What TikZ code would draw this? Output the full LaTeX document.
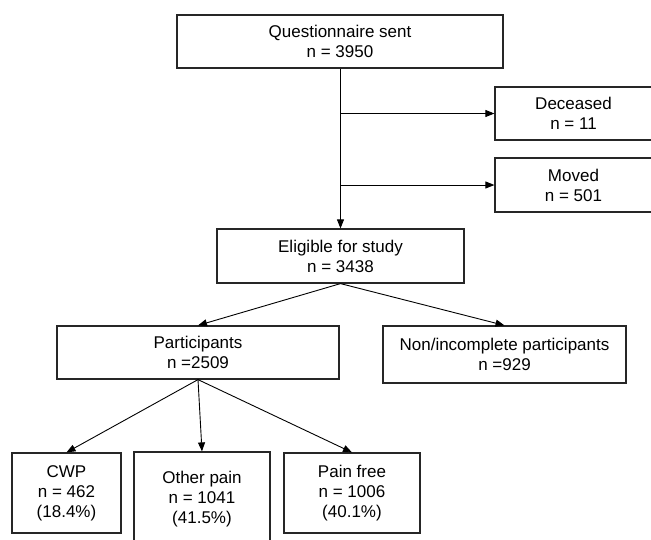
\documentclass[tikz,border=0pt]{standalone}
\usepackage{fontspec}
\setmainfont{Liberation Sans}
\usetikzlibrary{arrows.meta}
\begin{document}
\begin{tikzpicture}[x=1pt, y=-1pt,
    boite/.style={draw=black!85, line width=1.2pt, align=center, inner sep=2pt,
      font=\fontsize{17}{20}\selectfont},
    fleche/.style={line width=0.9pt, -{Triangle[length=9pt, width=7pt]}}]
    \path[use as bounding box, clip] (0, 0) rectangle (651, 539) ;
    %--- Envoi et exclusions
      \node[boite, minimum width=326pt, minimum height=53pt] (envoi) at (340, 41.5)
        {Questionnaire sent\\n = 3950} ;
      \node[boite, minimum width=157pt, minimum height=53pt] (deces) at (573.5, 113.5)
        {Deceased\\n = 11} ;
      \node[boite, minimum width=157pt, minimum height=54pt] (demenage) at (573.5, 185)
        {Moved\\n = 501} ;
      \node[boite, minimum width=247pt, minimum height=54pt] (eligible) at (340.5, 256)
        {Eligible for study\\n = 3438} ;
      \draw[fleche] (envoi.south -| eligible.north) -- (eligible.north) ;
      \draw[fleche] (eligible.north |- deces.west) -- (deces.west) ;
      \draw[fleche] (eligible.north |- demenage.west) -- (demenage.west) ;
    %--- Participants
      \node[boite, minimum width=282pt, minimum height=53pt] (particip) at (198, 352.5)
        {Participants\\n =2509} ;
      \node[boite, minimum width=243pt, minimum height=57pt] (nonparticip) at (504.5, 354.5)
        {Non/incomplete participants\\n =929} ;
      \draw[fleche] (eligible.south) -- (particip.north) ;
      \draw[fleche] (eligible.south) -- (nonparticip.north) ;
    %--- Groupes de douleur
      \node[boite, minimum width=109pt, minimum height=80pt] (cwp) at (66.5, 493)
        {CWP\\n = 462\\(18.4\%)} ;
      \node[boite, minimum width=136pt, minimum height=94pt] (autre) at (202, 499)
        {Other pain\\n = 1041\\(41.5\%)} ;
      \node[boite, minimum width=136pt, minimum height=80pt] (sansdouleur) at (352, 493)
        {Pain free\\n = 1006\\(40.1\%)} ;
      \draw[fleche] (particip.south) -- (cwp.north) ;
      \draw[fleche] (particip.south) -- (autre.north) ;
      \draw[fleche] (particip.south) -- (sansdouleur.north) ;
  \end{tikzpicture}
\end{document}
